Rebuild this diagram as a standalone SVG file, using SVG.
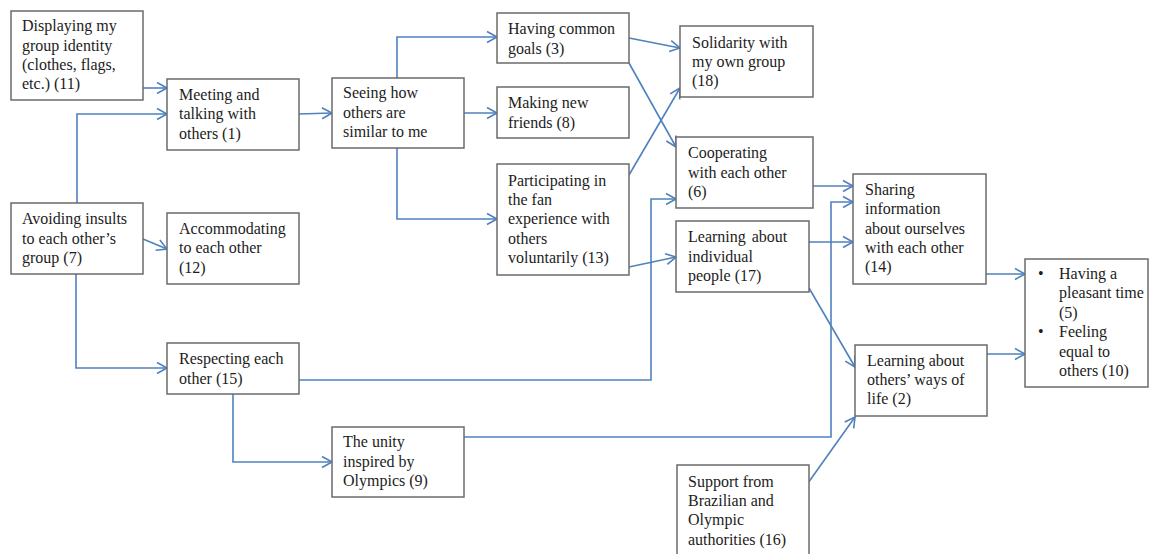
<svg xmlns="http://www.w3.org/2000/svg" width="1151" height="554" viewBox="0 0 1151 554">
  <style>
    .box { fill: #ffffff; stroke: #6b6b6b; stroke-width: 1.5; }
    .edge { fill: none; stroke: #4f81bd; stroke-width: 1.6; marker-end: url(#arr); }
  </style>
  <defs>
    <marker id="arr" markerUnits="userSpaceOnUse" markerWidth="14" markerHeight="14" refX="11" refY="7" orient="auto">
      <path d="M1,1.5 L11,7 L1,12.5" fill="none" stroke="#4f81bd" stroke-width="1.6"/>
    </marker>
  </defs>
  <rect width="1151" height="554" fill="#ffffff"/>

  <!-- connectors -->
  <g id="connectors">
    <path class="edge" d="M143,88 L167,88"/>
    <path class="edge" d="M77,203 L77,114 L167,114"/>
    <path class="edge" d="M299,114 L332,113"/>
    <path class="edge" d="M397,78 L397,37 L497,37"/>
    <path class="edge" d="M464,113 L497,113"/>
    <path class="edge" d="M397,148 L397,219 L497,219"/>
    <path class="edge" d="M629,38 L680,48"/>
    <path class="edge" d="M629,63 L676,147"/>
    <path class="edge" d="M629,175 L680,88"/>
    <path class="edge" d="M629,267 L676,257"/>
    <path class="edge" d="M299,380 L651,380 L651,199 L676,199"/>
    <path class="edge" d="M464,437 L831,437 L831,202 L853,202"/>
    <path class="edge" d="M813,186 L853,186"/>
    <path class="edge" d="M809,242 L853,242"/>
    <path class="edge" d="M809,288 L855,367"/>
    <path class="edge" d="M808,483 L855,417"/>
    <path class="edge" d="M986,274 L1025,274"/>
    <path class="edge" d="M987,354 L1025,354"/>
    <path class="edge" d="M143,239 L167,249"/>
    <path class="edge" d="M76,274 L76,368 L167,368"/>
    <path class="edge" d="M233,394 L233,462 L332,462"/>
  </g>

  <g id="nodes" font-family="Liberation Serif, Times New Roman, serif" font-size="16" fill="#1c1c1c">
  <g id="n11">
    <rect class="box" x="11" y="11" width="132" height="89"/>
    <text x="22" y="31">Displaying my</text>
    <text x="22" y="51">group identity</text>
    <text x="22" y="70">(clothes, flags,</text>
    <text x="22" y="89">etc.) (11)</text>
  </g>
  <g id="n1">
    <rect class="box" x="167" y="79" width="132" height="71"/>
    <text x="179" y="100">Meeting and</text>
    <text x="179" y="119">talking with</text>
    <text x="179" y="139">others (1)</text>
  </g>
  <g id="nSimilar">
    <rect class="box" x="332" y="78" width="132" height="70"/>
    <text x="343" y="98">Seeing how</text>
    <text x="343" y="118">others are</text>
    <text x="343" y="137">similar to me</text>
  </g>
  <g id="n3">
    <rect class="box" x="497" y="13" width="132" height="50"/>
    <text x="508" y="34">Having common</text>
    <text x="508" y="54">goals (3)</text>
  </g>
  <g id="n8">
    <rect class="box" x="497" y="87" width="132" height="51"/>
    <text x="508" y="108">Making new</text>
    <text x="508" y="128">friends (8)</text>
  </g>
  <g id="n13">
    <rect class="box" x="497" y="164" width="132" height="111"/>
    <text x="508" y="186">Participating in</text>
    <text x="508" y="205">the fan</text>
    <text x="508" y="224">experience with</text>
    <text x="508" y="244">others</text>
    <text x="508" y="263">voluntarily (13)</text>
  </g>
  <g id="n18">
    <rect class="box" x="680" y="26" width="133" height="71"/>
    <text x="692" y="48">Solidarity with</text>
    <text x="692" y="67">my own group</text>
    <text x="692" y="86">(18)</text>
  </g>
  <g id="n6">
    <rect class="box" x="676" y="137" width="137" height="71"/>
    <text x="688" y="158">Cooperating</text>
    <text x="688" y="178">with each other</text>
    <text x="688" y="197">(6)</text>
  </g>
  <g id="n17">
    <rect class="box" x="676" y="221" width="133" height="71"/>
    <text x="688" y="242" word-spacing="2">Learning about</text>
    <text x="688" y="262">individual</text>
    <text x="688" y="281">people (17)</text>
  </g>
  <g id="n14">
    <rect class="box" x="853" y="174" width="133" height="110"/>
    <text x="865" y="195">Sharing</text>
    <text x="865" y="214">information</text>
    <text x="865" y="234">about ourselves</text>
    <text x="865" y="253">with each other</text>
    <text x="865" y="272">(14)</text>
  </g>
  <g id="n5n10">
    <rect class="box" x="1025" y="259" width="123" height="128"/>
    <text x="1038" y="279">•</text>
    <text x="1059" y="279">Having a</text>
    <text x="1059" y="298">pleasant time</text>
    <text x="1059" y="318">(5)</text>
    <text x="1038" y="337">•</text>
    <text x="1059" y="337">Feeling</text>
    <text x="1059" y="357">equal to</text>
    <text x="1059" y="376">others (10)</text>
  </g>
  <g id="n2">
    <rect class="box" x="855" y="345" width="132" height="71"/>
    <text x="867" y="366">Learning about</text>
    <text x="867" y="385">others’ ways of</text>
    <text x="867" y="404">life (2)</text>
  </g>
  <g id="n7">
    <rect class="box" x="11" y="203" width="132" height="71"/>
    <text x="22" y="224">Avoiding insults</text>
    <text x="22" y="244">to each other’s</text>
    <text x="22" y="263">group (7)</text>
  </g>
  <g id="n12">
    <rect class="box" x="167" y="213" width="132" height="71"/>
    <text x="179" y="234">Accommodating</text>
    <text x="179" y="253">to each other</text>
    <text x="179" y="273">(12)</text>
  </g>
  <g id="n15">
    <rect class="box" x="167" y="343" width="132" height="51"/>
    <text x="179" y="364">Respecting each</text>
    <text x="179" y="384">other (15)</text>
  </g>
  <g id="n9">
    <rect class="box" x="332" y="427" width="132" height="70"/>
    <text x="343" y="447">The unity</text>
    <text x="343" y="467">inspired by</text>
    <text x="343" y="486">Olympics (9)</text>
  </g>
  <g id="n16">
    <rect class="box" x="677" y="465" width="132" height="92"/>
    <text x="688" y="487">Support from</text>
    <text x="688" y="506">Brazilian and</text>
    <text x="688" y="525">Olympic</text>
    <text x="688" y="545">authorities (16)</text>
  </g>
  </g>
</svg>
